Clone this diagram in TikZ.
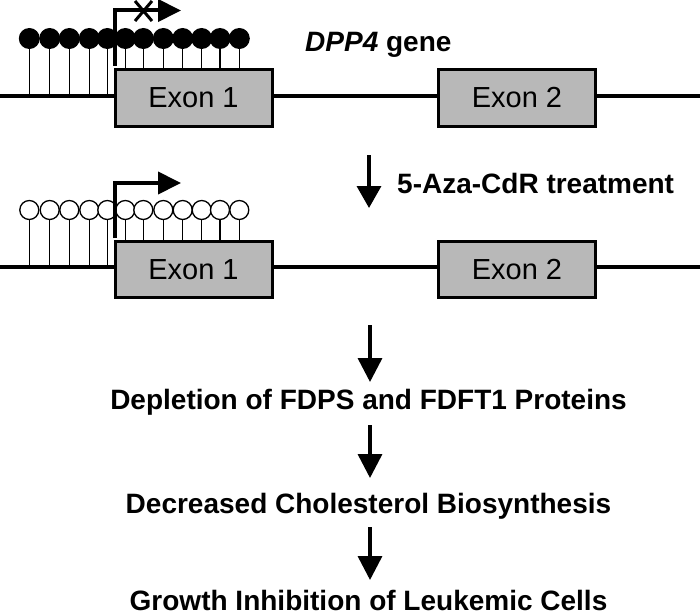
\documentclass[tikz,border=0pt]{standalone}
\usepackage{fontspec}
\setmainfont{Liberation Sans}
\usetikzlibrary{arrows.meta}
\definecolor{exgray}{gray}{0.72}
\begin{document}
\begin{tikzpicture}[x=1pt,y=-1pt,
  exon/.style={draw, line width=3pt, fill=exgray, minimum width=157pt, minimum height=56pt, inner sep=0pt, font=\fontsize{29}{30}\selectfont},
  txt/.style={inner sep=0pt, font=\fontsize{28}{30}\selectfont\bfseries},
  gline/.style={line width=4pt},
  stem/.style={line width=1.3pt},
  flow/.style={line width=3.5pt, -{Triangle[length=24pt,width=24pt]}},
  prom/.style={line width=4pt, -{Triangle[length=23pt,width=22pt]}}]
\useasboundingbox (0,0) rectangle (700,615);

% ---- top gene (methylated) ----
\coordinate (l1a) at (0,96);
\coordinate (l1b) at (700,96);
\draw[gline] (l1a) -- (l1b);
\node[exon] (e1a) at (193.5,98) {Exon 1};
\node[exon] (e2a) at (517,98) {Exon 2};
\foreach \x in {29.3,49.7,69.3,89.3,107.3}
  \draw[stem] (\x,38.5) -- (\x,94);
\foreach \x in {125.3,143.3,163.3,182.7,201.7,220,239.3}{
  \coordinate (s) at (\x,38.5);
  \draw[stem] (s) -- (s |- e1a.north);}
\foreach \x in {29.3,49.7,69.3,89.3,107.3,125.3,143.3,163.3,182.7,201.7,220,239.3}
  \fill (\x,38.5) circle (10.5);
\coordinate (p1s) at (115,66);
\coordinate (p1c) at (115,10.5);
\coordinate (p1e) at (181,10.5);
\draw[prom] (p1s) -- (p1c) -- (p1e);
\draw[line width=3pt] (135,1) -- (152,21) (135,21) -- (152,1);
\node[txt, anchor=base west] (gene) at (305,52) {\textit{DPP4} gene};

% ---- treatment arrow ----
\coordinate (t1) at (369,155);
\coordinate (t2) at (369,208);
\draw[line width=3.5pt, -{Triangle[length=22pt,width=24pt]}] (t1) -- (t2);
\node[txt, anchor=base west] (treat) at (397,193) {5-Aza-CdR treatment};

% ---- lower gene (demethylated) ----
\coordinate (l2a) at (0,267);
\coordinate (l2b) at (700,267);
\draw[gline] (l2a) -- (l2b);
\node[exon] (e1b) at (193.5,269.5) {Exon 1};
\node[exon] (e2b) at (517,269.5) {Exon 2};
\foreach \x in {29.3,49.7,69.3,89.3,107.3}
  \draw[stem] (\x,210) -- (\x,265);
\foreach \x in {125.3,143.3,163.3,182.7,201.7,220,239.3}{
  \coordinate (s) at (\x,210);
  \draw[stem] (s) -- (s |- e1b.north);}
\foreach \x in {29.3,49.7,69.3,89.3,107.3,125.3,143.3,163.3,182.7,201.7,220,239.3}
  \draw[line width=1.3pt, fill=white] (\x,210) circle (9.5);
\coordinate (p2s) at (115,238);
\coordinate (p2c) at (115,183);
\coordinate (p2e) at (181,183);
\draw[prom] (p2s) -- (p2c) -- (p2e);

% ---- consequences ----
\node[txt, anchor=base] (dep) at (368.5,409) {Depletion of FDPS and FDFT1 Proteins};
\node[txt, anchor=base] (dec) at (368.5,513) {Decreased Cholesterol Biosynthesis};
\node[txt, anchor=base] (gro) at (368.5,610) {Growth Inhibition of Leukemic Cells};
\coordinate (a0) at (370,325);
\coordinate (a1) at (370,382);
\coordinate (b0) at (370,425);
\coordinate (b1) at (370,478);
\coordinate (c0) at (370,527);
\coordinate (c1) at (370,580);
\draw[flow] (a0) -- (a1);
\draw[flow] (b0) -- (b1);
\draw[flow] (c0) -- (c1);
\end{tikzpicture}
\end{document}
